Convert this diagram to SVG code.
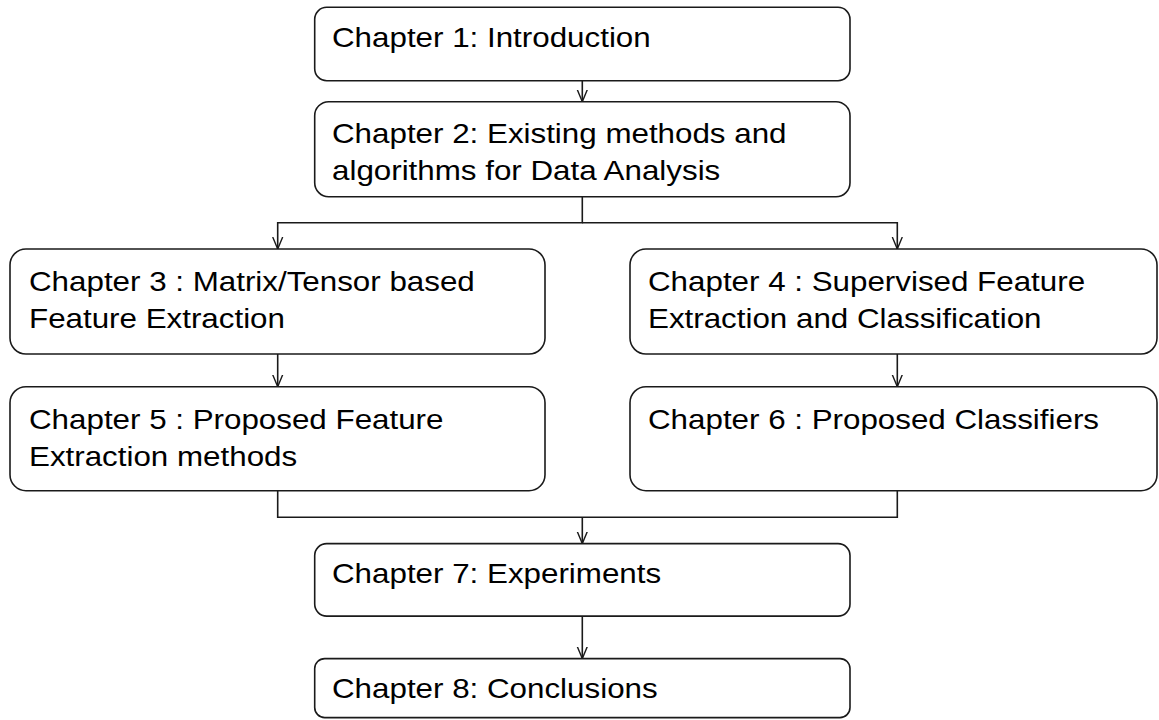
<svg xmlns="http://www.w3.org/2000/svg" width="1159" height="720" viewBox="0 0 1159 720">
  <style>
    .box { fill: #ffffff; stroke: #1a1a1a; stroke-width: 1.6; }
    .lbl { font-family: "Liberation Sans", Arial, sans-serif; font-size: 28.5px; fill: #000000; }
    .wire { fill: none; stroke: #1a1a1a; stroke-width: 1.6; }
  </style>
  <defs>
    <marker id="arrow" viewBox="0 0 12 12" markerWidth="12" markerHeight="12" refX="12" refY="6" orient="auto" markerUnits="userSpaceOnUse">
      <path d="M0,1 L12,6 L0,11" fill="none" stroke="#1a1a1a" stroke-width="1.4"/>
    </marker>
  </defs>
  <rect width="1159" height="720" fill="#ffffff"/>

  <!-- connectors -->
  <g id="connectors">
    <line class="wire" x1="582.3" y1="80.7" x2="582.3" y2="101.7" marker-end="url(#arrow)"/>
    <path class="wire" d="M582.3,196.7 V222.7 H277.7 V249" marker-end="url(#arrow)"/>
    <path class="wire" d="M582.3,222.7 H897.3 V249" marker-end="url(#arrow)"/>
    <line class="wire" x1="277.7" y1="354" x2="277.7" y2="386.7" marker-end="url(#arrow)"/>
    <line class="wire" x1="897.3" y1="354" x2="897.3" y2="386.7" marker-end="url(#arrow)"/>
    <path class="wire" d="M277.7,490.7 V517.3 H897.3 V490.7"/>
    <line class="wire" x1="582.3" y1="517.3" x2="582.3" y2="543.6" marker-end="url(#arrow)"/>
    <line class="wire" x1="582.3" y1="616.1" x2="582.3" y2="658.6" marker-end="url(#arrow)"/>
  </g>

  <g id="ch1">
    <rect class="box" x="314.7" y="7.3" width="535.3" height="73.4" rx="12" ry="12"/>
    <text class="lbl" transform="translate(332,46.7) scale(1.1,1)">Chapter 1: Introduction</text>
  </g>
  <g id="ch2">
    <rect class="box" x="314.7" y="101.7" width="535.3" height="95" rx="14" ry="14"/>
    <text class="lbl" transform="translate(332,142.5) scale(1.1,1)">Chapter 2: Existing methods and</text>
    <text class="lbl" transform="translate(332,179.5) scale(1.1,1)">algorithms for Data Analysis</text>
  </g>
  <g id="ch3">
    <rect class="box" x="10" y="249" width="535" height="105" rx="16" ry="16"/>
    <text class="lbl" transform="translate(29,291) scale(1.1,1)">Chapter 3 : Matrix/Tensor based</text>
    <text class="lbl" transform="translate(29,328) scale(1.1,1)">Feature Extraction</text>
  </g>
  <g id="ch4">
    <rect class="box" x="630" y="249" width="527" height="105" rx="16" ry="16"/>
    <text class="lbl" transform="translate(648,291) scale(1.1,1)">Chapter 4 : Supervised Feature</text>
    <text class="lbl" transform="translate(648,328) scale(1.1,1)">Extraction and Classification</text>
  </g>
  <g id="ch5">
    <rect class="box" x="10" y="386.7" width="535" height="104" rx="16" ry="16"/>
    <text class="lbl" transform="translate(29,429) scale(1.1,1)">Chapter 5 : Proposed Feature</text>
    <text class="lbl" transform="translate(29,466) scale(1.1,1)">Extraction methods</text>
  </g>
  <g id="ch6">
    <rect class="box" x="630" y="386.7" width="527" height="104" rx="16" ry="16"/>
    <text class="lbl" transform="translate(648,429) scale(1.1,1)">Chapter 6 : Proposed Classifiers</text>
  </g>
  <g id="ch7">
    <rect class="box" x="314.7" y="543.6" width="535.3" height="72.5" rx="12" ry="12"/>
    <text class="lbl" transform="translate(332,582.8) scale(1.1,1)">Chapter 7: Experiments</text>
  </g>
  <g id="ch8">
    <rect class="box" x="314.7" y="658.6" width="535.3" height="59" rx="10" ry="10"/>
    <text class="lbl" transform="translate(332,697.5) scale(1.1,1)">Chapter 8: Conclusions</text>
  </g>
</svg>
